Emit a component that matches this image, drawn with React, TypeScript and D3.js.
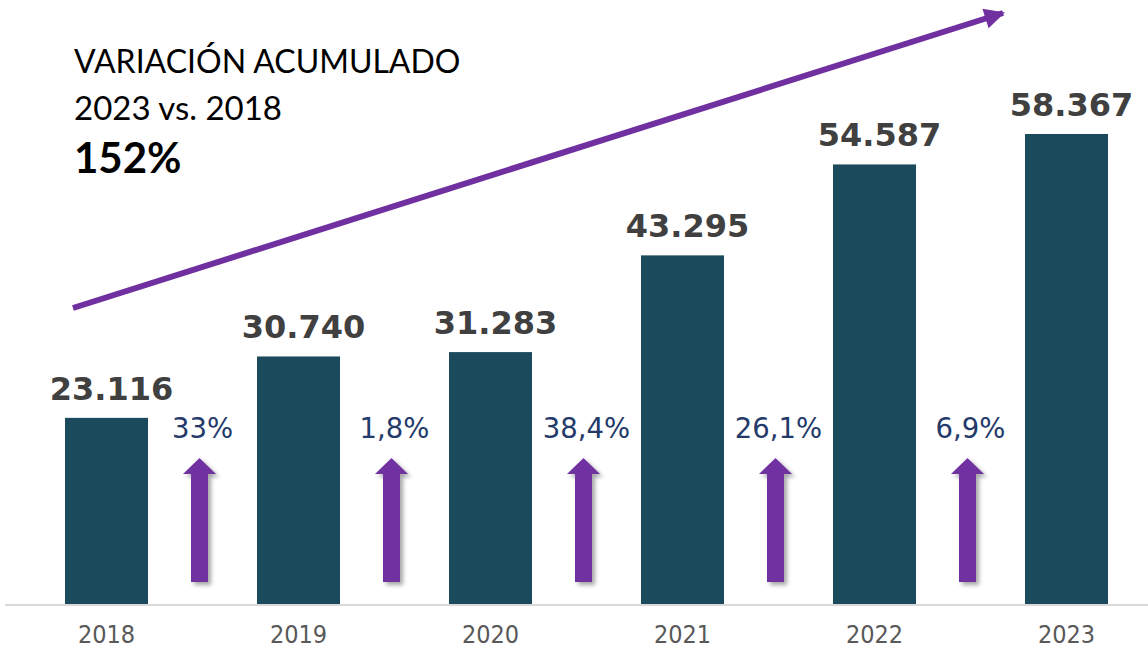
import * as d3 from "d3";

const years = ["2018", "2019", "2020", "2021", "2022", "2023"];
const values = [23116, 30740, 31283, 43295, 54587, 58367];
const valueLabels = ["23.116", "30.740", "31.283", "43.295", "54.587", "58.367"];
const changeLabels = ["33%", "1,8%", "38,4%", "26,1%", "6,9%"];

const width = 1148;
const height = 650;
const baseY = 604;
const purple = "#7030a0";

export default function App() {
  const x = d3
    .scaleBand()
    .domain(years)
    .range([65, 1108])
    .paddingInner(109 / 192)
    .paddingOuter(0);

  const y = d3.scaleLinear().domain([0, 58367]).range([baseY, 134]);

  const bw = x.bandwidth();
  // middle of the gap between two bars
  const gapMid = (i: number) => (x(years[i])! + bw + x(years[i + 1])!) / 2;

  return (
    <svg
      width={width}
      height={height}
      style={{ position: "absolute", left: 0, top: 0, background: "#fff" }}
    >
      <defs>
        <filter id="shadow" x="-50%" y="-20%" width="200%" height="140%">
          <feDropShadow dx="3" dy="3" stdDeviation="2" floodColor="#000" floodOpacity="0.35" />
        </filter>
        <marker
          id="head"
          viewBox="0 0 10 10"
          refX="9"
          refY="5"
          markerWidth="3.6"
          markerHeight="3.4"
          orient="auto"
          markerUnits="strokeWidth"
        >
          <path d="M0,0 L10,5 L0,10 Z" fill={purple} />
        </marker>
      </defs>

      {/* baseline */}
      <line x1={5} x2={width} y1={baseY + 1} y2={baseY + 1} stroke="#d9d9d9" strokeWidth={2} />

      {/* bars */}
      {years.map((yr, i) => (
        <rect
          key={yr}
          x={x(yr)}
          y={y(values[i])}
          width={bw}
          height={baseY - y(values[i])}
          fill="#1c4a5d"
        />
      ))}

      {/* value labels */}
      {years.map((yr, i) => (
        <text
          key={"v" + yr}
          x={x(yr)! + bw / 2 + 5}
          y={y(values[i]) - 18}
          textAnchor="middle"
          fontFamily="DejaVu Sans, Verdana, sans-serif"
          fontWeight="bold"
          fontSize={32}
          fill="#404040"
        >
          {valueLabels[i]}
        </text>
      ))}

      {/* year labels */}
      {years.map((yr) => (
        <text
          key={"y" + yr}
          x={x(yr)! + bw / 2}
          y={643}
          textAnchor="middle"
          fontFamily="DejaVu Sans Condensed, DejaVu Sans, sans-serif"
          fontStretch="condensed"
          fontSize={25}
          fill="#595959"
        >
          {yr}
        </text>
      ))}

      {/* yearly change labels + arrows */}
      {changeLabels.map((lbl, i) => {
        const cx = gapMid(i);
        const ax = cx - 3;
        return (
          <g key={"c" + i}>
            <text
              x={cx}
              y={438}
              textAnchor="middle"
              fontFamily="DejaVu Sans, Verdana, sans-serif"
              fontSize={27.5}
              fill="#243a6a"
            >
              {lbl}
            </text>
            <path
              d={`M${ax},458 L${ax + 16.5},474 L${ax + 8.5},474 L${ax + 8.5},582 L${ax - 8.5},582 L${ax - 8.5},474 L${ax - 16.5},474 Z`}
              fill={purple}
              filter="url(#shadow)"
            />
          </g>
        );
      })}

      {/* cumulative trend arrow */}
      <line
        x1={73}
        y1={308}
        x2={1003}
        y2={13}
        stroke={purple}
        strokeWidth={6}
        markerEnd="url(#head)"
      />

      {/* title */}
      <g fontFamily="Lato, Carlito, Calibri, sans-serif" fill="#000">
        <text x={74} y={73} fontSize={32}>
          VARIACIÓN ACUMULADO
        </text>
        <text x={74} y={120} fontSize={33}>
          2023 vs. 2018
        </text>
        <text x={74} y={173} fontSize={42} fontWeight="bold">
          152%
        </text>
      </g>
    </svg>
  );
}
